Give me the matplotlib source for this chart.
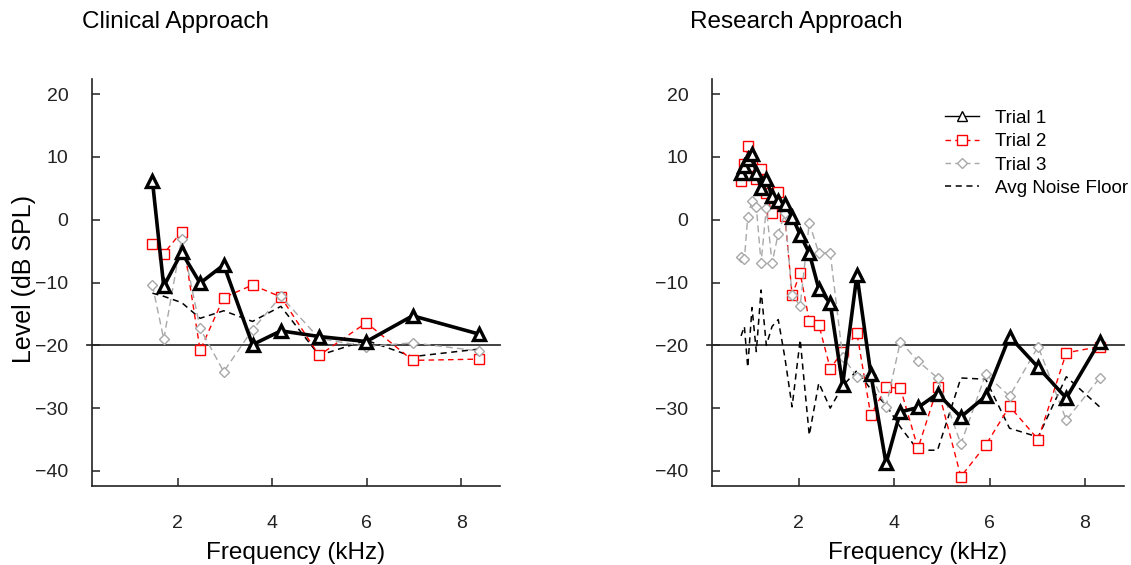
import matplotlib
matplotlib.use('Agg')
import matplotlib.pyplot as plt
from matplotlib.lines import Line2D

plt.rcParams['font.family'] = ['Liberation Sans', 'DejaVu Sans']

# clinical protocol: f2 frequencies (kHz) and DPOAE levels (dB SPL)
clin_freq = [1.46, 1.70, 2.08, 2.47, 2.97, 3.58, 4.18, 4.99, 5.99, 6.97, 8.37]
clin_trial1 = [6.2, -10.6, -5.2, -10.1, -7.2, -19.9, -17.7, -18.6, -19.4, -15.3, -18.2]
clin_trial2 = [-3.9, -5.4, -1.9, -20.8, -12.4, -10.4, -12.3, -21.6, -16.4, -22.4, -22.2]
clin_trial3 = [-10.4, -19.0, -3.0, -17.3, -24.2, -17.5, -12.2, -18.9, -20.2, -19.6, -20.9]
clin_noise = [-11.7, -12.2, -13.2, -15.7, -14.5, -16.2, -13.8, -21.6, -19.2, -21.8, -20.6]

# research protocol: finer frequency sweep
res_freq = [0.79, 0.86, 0.93, 1.02, 1.11, 1.21, 1.32, 1.44, 1.57, 1.71, 1.86, 2.03, 2.22, 2.42,
            2.66, 2.92, 3.22, 3.51, 3.83, 4.13, 4.50, 4.91, 5.40, 5.92, 6.42, 7.02, 7.61, 8.31]
res_trial1 = [7.4, 8.5, 9.7, 10.4, 7.5, 5.0, 6.5, 3.7, 2.9, 2.5, 0.5, -2.4, -5.3, -11.0,
              -13.3, -26.3, -8.8, -24.5, -38.8, -30.6, -29.9, -27.7, -31.4, -28.1, -18.6, -23.5, -28.4, -19.4]
res_trial2 = [6.1, 8.8, 11.7, 8.5, 6.4, 8.1, 4.3, 1.0, 4.4, 0.6, -12.0, -8.5, -16.1, -16.7,
              -23.7, -21.0, -18.1, -31.1, -26.7, -26.8, -36.4, -26.7, -40.9, -35.9, -29.7, -35.0, -21.2, -20.2]
res_trial3 = [-6.0, -6.3, 0.5, 3.0, 2.0, -6.9, 1.9, -6.9, -2.2, 1.0, -12.0, -13.7, -0.5, -5.3,
              -5.3, -21.8, -25.0, -24.7, -29.8, -19.4, -22.5, -25.2, -35.7, -24.6, -28.1, -20.2, -31.9, -25.2]
res_noise = [-18.5, -17.0, -23.5, -14.0, -21.0, -11.2, -20.0, -17.0, -15.9, -22.0, -29.8, -19.1, -34.3, -26.0,
             -30.0, -26.5, -24.0, -27.0, -29.5, -33.0, -36.7, -36.7, -25.2, -25.4, -33.2, -34.6, -25.0, -29.8]

YTICKS = [-40, -30, -20, -10, 0, 10, 20]
XTICKS = [2, 4, 6, 8]
GRAY = '#a8a8a8'


def draw_panel(ax, freq, t1, t2, t3, noise):
    ax.plot(freq, noise, color='black', lw=1.1, ls=(0, (4, 3)), zorder=2)
    ax.plot(freq, t2, color='red', lw=1.0, ls=(0, (4, 3)), marker='s', ms=7,
            mfc='white', mec='red', mew=1.0, zorder=3)
    ax.plot(freq, t3, color=GRAY, lw=1.0, ls=(0, (5, 3)), marker='D', ms=5.5,
            mfc='white', mec=GRAY, mew=1.0, zorder=4)
    ax.plot(freq, t1, color='black', lw=2.6, marker='^', ms=8,
            mfc='white', mec='black', mew=2.4, zorder=5)
    ax.plot([-0.012, 1], [-20, -20], color='#333333', lw=1.3,
            transform=ax.get_yaxis_transform(), clip_on=False, zorder=1)

    ax.set_xlim(0.18, 8.82)
    ax.set_ylim(-42.4, 22.4)
    ax.set_xticks(XTICKS)
    ax.set_yticks(YTICKS)
    ax.set_yticklabels([str(v).replace('-', '\u2212') for v in YTICKS])
    ax.tick_params(axis='both', direction='in', length=6, width=1.1, colors='#222222', labelsize=14)
    ax.tick_params(axis='y', pad=17)
    ax.tick_params(axis='x', pad=21)
    for side in ['top', 'right']:
        ax.spines[side].set_visible(False)
    for side in ['left', 'bottom']:
        ax.spines[side].set_linewidth(1.2)
        ax.spines[side].set_color('#222222')
    ax.set_xlabel('Frequency (kHz)', fontsize=17.5, labelpad=7)


fig = plt.figure(figsize=(11.31, 5.65), dpi=100)
ax1 = fig.add_axes([0.0813, 0.1398, 0.3608, 0.7204])
ax2 = fig.add_axes([0.6295, 0.1398, 0.3643, 0.7204])

draw_panel(ax1, clin_freq, clin_trial1, clin_trial2, clin_trial3, clin_noise)
draw_panel(ax2, res_freq, res_trial1, res_trial2, res_trial3, res_noise)

fig.text(82 / 1131, 1 - 22 / 565, 'Clinical Approach', fontsize=17.5, va='center', ha='left')
fig.text(690 / 1131, 1 - 22 / 565, 'Research Approach', fontsize=17.5, va='center', ha='left')
fig.text(24 / 1131, 1 - 279 / 565, 'Level (dB SPL)', fontsize=18, rotation=90, va='center', ha='center')

handles = [
    Line2D([], [], color='black', lw=1.0, marker='^', ms=7, mfc='white', mec='black', mew=1.0),
    Line2D([], [], color='red', lw=1.0, ls=(0, (4, 3)), marker='s', ms=7, mfc='white', mec='red', mew=1.0),
    Line2D([], [], color=GRAY, lw=1.0, ls=(0, (4, 3)), marker='D', ms=5.5, mfc='white', mec=GRAY, mew=1.0),
    Line2D([], [], color='black', lw=1.1, ls=(0, (4, 3))),
]
ax2.legend(handles, ['Trial 1', 'Trial 2', 'Trial 3', 'Avg Noise Floor'],
           loc='upper left', bbox_to_anchor=(0.565, 0.925), frameon=False, fontsize=13.6,
           borderpad=0, borderaxespad=0, handlelength=1.8, handletextpad=0.85, labelspacing=0.33)

fig.savefig('out.png', dpi=100)
